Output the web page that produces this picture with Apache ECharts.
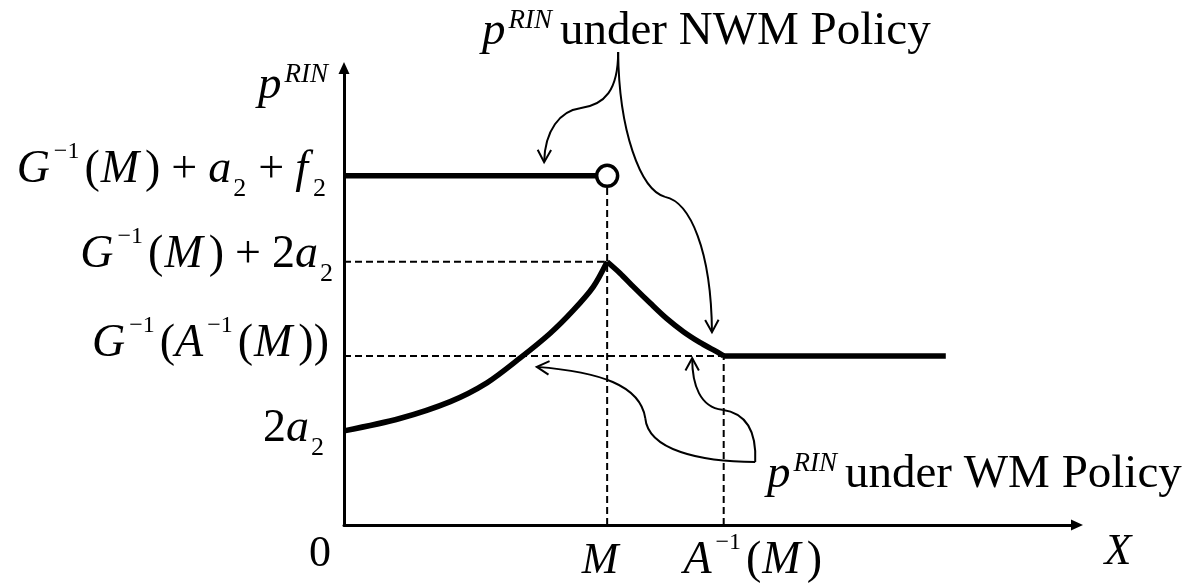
<!DOCTYPE html>
<html>
<head>
<meta charset="utf-8">
<script src="https://cdn.jsdelivr.net/npm/echarts@6/dist/echarts.min.js"></script>
<style>
  html, body { margin: 0; padding: 0; background: #fff; }
  #main { width: 1198px; height: 586px; }
</style>
</head>
<body>
<div id="main"></div>
<script>
// x and y both run 0..100 (schematic units)
const mX = 35.9;        // M
const aInvX = 51.8;     // A^-1(M)
const xEnd = 82.1;      // end of flat part
const nwmLevel = 76.4;  // G^-1(M)+a2+f2
const peakLevel = 57.6; // G^-1(M)+2a2
const flatLevel = 37.0; // G^-1(A^-1(M))
const startLevel = 20.6; // 2a2

// p^RIN under NWM policy
const nwmLine = [[0, nwmLevel], [mX, nwmLevel]];
// p^RIN under WM policy
const wmRise = [[0, 20.6], [7.6, 23.3], [14.5, 27.0], [19.5, 31.1], [24.0, 36.5], [28.1, 41.9], [31.3, 47.0], [34.0, 52.1], [35.9, 57.6]];
const wmFall = [[35.9, 57.6], [37.65, 55.1], [39.5, 52.1], [41.8, 48.5], [44.0, 45.2], [46.3, 42.3], [48.6, 39.9], [50.4, 38.3], [51.8, 37.0]];
const wmFlat = [[aInvX, flatLevel], [xEnd, flatLevel]];

// dashed guides
const guides = [
  [[0, peakLevel], [mX, peakLevel]],
  [[0, flatLevel], [aInvX, flatLevel]],
  [[mX, 0], [mX, nwmLevel]],
  [[aInvX, 0], [aInvX, flatLevel]]
];

// tick labels
const yTicks = [
  { v: nwmLevel, t: '{i|G}{sup|−1}{n|(}{im|M}{n|)}{op|+}{i|a}{sub|2}{op|+}{if|f}{sub|2}', d: 17, off: [0, -6] },
  { v: peakLevel, t: '{i|G}{sup|−1}{n|(}{im|M}{n|)}{op|+}{n|2}{i|a}{sub|2}', d: 10, off: [0, -7] },
  { v: flatLevel, t: '{i|G}{sup|−1}{n|(}{i|A}{sup|−1}{n|(}{im|M}{n|))}', d: 15, off: [0, -12] },
  { v: startLevel, t: '{n|2}{i|a}{sub|2}', d: 19, off: [0, -2] }
];
const xTicks = [
  { v: mX, t: '{x1|M}', off: [-7, 36] },
  { v: aInvX, t: '{i|A}{sup|−1}{n|(}{im|M}{n|)}', off: [29, 36] }
];

// curved pointers (bezier control points in data units)
const arrowNwmTop = [[37.4, 103.5], [37.4, 95.2], [35.6, 91.9], [32.2, 91.2], [29.5, 90.6], [27.4, 86.4], [27.3, 79.4]];
const arrowNwmCurve = [[37.4, 103.5], [37.5, 86.4], [40.4, 73.3], [43.8, 71.8], [47.2, 70.7], [50.1, 60.2], [50.2, 42.2]];
const arrowWmCurve = [[56.1, 13.8], [48.6, 13.8], [41.5, 16.4], [41.1, 23.4], [40.4, 30.6], [34.9, 33.5], [26.3, 34.6]];
const arrowWmFlat = [[56.1, 13.8], [56.3, 20.8], [54.7, 24.5], [51.6, 25.2], [48.6, 25.8], [47.5, 30.6], [47.5, 36.5]];

const serif = '"Liberation Serif", "DejaVu Serif", serif';
const LH = 64;
const FS = 46;
const rich = {
  i: { fontFamily: serif, fontStyle: 'italic', fontSize: FS, color: '#000', lineHeight: LH },
  im: { fontFamily: serif, fontStyle: 'italic', fontSize: FS, color: '#000', lineHeight: LH, padding: [0, 6, 0, 1] },
  if: { fontFamily: serif, fontStyle: 'italic', fontSize: FS, color: '#000', lineHeight: LH, padding: [0, 3, 0, 0] },
  n: { fontFamily: serif, fontSize: FS, color: '#000', lineHeight: LH },
  op: { fontFamily: serif, fontSize: FS, color: '#000', lineHeight: LH, padding: [0, 11, 0, 11] },
  sup: { fontFamily: serif, fontSize: 24, color: '#000', verticalAlign: 'top', padding: [2, 5, 0, 4] },
  sub: { fontFamily: serif, fontSize: 26, color: '#000', verticalAlign: 'bottom', padding: [0, 1, 0, 2] },
  x1: { fontFamily: serif, fontStyle: 'italic', fontSize: 44, color: '#000' },
  d1: { fontFamily: serif, fontSize: 44, color: '#000' }
};
const annRich = {
  p: { fontFamily: serif, fontStyle: 'italic', fontSize: 47, color: '#000', lineHeight: LH },
  s: { fontFamily: serif, fontStyle: 'italic', fontSize: 27, color: '#000', verticalAlign: 'top', padding: [7, 8, 0, 3] },
  t: { fontFamily: serif, fontSize: 47, color: '#000', lineHeight: LH }
};

const myChart = echarts.init(document.getElementById('main'), null, { renderer: 'canvas' });

function solid(name, data, smooth) {
  return {
    name: name, type: 'line', data: data, smooth: smooth || false,
    showSymbol: false, symbol: 'none', silent: true, z: 4,
    lineStyle: { color: '#000', width: 5.5, cap: 'butt' }
  };
}

const series = [
  solid('nwm', nwmLine),
  solid('wmRise', wmRise, 0.3),
  solid('wmFall', wmFall, 0.3),
  solid('wmFlat', wmFlat)
];
guides.forEach(function (g, k) {
  series.push({
    name: 'guide' + k, type: 'line', data: g, symbol: 'none', silent: true, z: 2,
    lineStyle: { color: '#000', width: 2, type: [7, 4] }
  });
});
series.push({
  name: 'hole', type: 'scatter', data: [[mX, nwmLevel]], symbol: 'circle', symbolSize: 21, z: 6,
  itemStyle: { color: '#fff', borderColor: '#000', borderWidth: 3.5, opacity: 1 }, silent: true
});
series.push({
  name: 'yTicks', type: 'scatter', symbolSize: 0, silent: true,
  itemStyle: { opacity: 1 },
  data: yTicks.map(function (d) {
    return { value: [0, d.v], label: { distance: d.d, offset: d.off } };
  }),
  label: {
    show: true, position: 'left', rich: rich, color: '#000',
    formatter: function (p) { return yTicks[p.dataIndex].t; }
  }
});
series.push({
  name: 'xTicks', type: 'scatter', symbolSize: 0, silent: true,
  itemStyle: { opacity: 1 },
  data: xTicks.map(function (d) {
    return { value: [d.v, 0], label: { offset: d.off } };
  }).concat([{ value: [0, 0], label: { offset: [-24, 29] } }]),
  label: {
    show: true, position: 'inside', rich: rich, color: '#000',
    formatter: function (p) { return p.dataIndex < xTicks.length ? xTicks[p.dataIndex].t : '{d1|0}'; }
  }
});

const option = {
  animation: false,
  backgroundColor: '#fff',
  grid: { left: 344, right: 121, top: 68, bottom: 61 },
  xAxis: {
    type: 'value', min: 0, max: 100,
    axisLine: { show: true, symbol: ['none', 'triangle'], symbolSize: [11, 12], lineStyle: { color: '#000', width: 3 } },
    axisTick: { show: false }, axisLabel: { show: false }, splitLine: { show: false },
    name: '{x1|X}', nameLocation: 'end', nameGap: 41,
    nameTextStyle: { rich: rich, color: '#000', align: 'center', verticalAlign: 'middle', padding: [54, 0, 0, 0] }
  },
  yAxis: {
    type: 'value', min: 0, max: 100,
    axisLine: { show: true, symbol: ['none', 'triangle'], symbolSize: [11, 12], lineStyle: { color: '#000', width: 3 } },
    axisTick: { show: false }, axisLabel: { show: false }, splitLine: { show: false },
    name: '{p|p}{s|RIN}', nameLocation: 'end', nameGap: 14,
    nameTextStyle: { rich: annRich, color: '#000', align: 'right', verticalAlign: 'top', padding: [0, 8, 0, 0] }
  },
  series: series
};
myChart.setOption(option);

// curved pointers with open heads, drawn after the grid exists
function toPx(p) { return myChart.convertToPixel({ gridIndex: 0 }, p); }
function pointer(ctrl) {
  const q = ctrl.map(toPx);
  const els = [];
  for (let k = 0; k + 3 < q.length; k += 3) {
    els.push({
      type: 'bezierCurve', silent: true, z: 10,
      shape: {
        x1: q[k][0], y1: q[k][1],
        cpx1: q[k + 1][0], cpy1: q[k + 1][1],
        cpx2: q[k + 2][0], cpy2: q[k + 2][1],
        x2: q[k + 3][0], y2: q[k + 3][1]
      },
      style: { fill: null, stroke: '#000', lineWidth: 2 }
    });
  }
  const tip = q[q.length - 1], prev = q[q.length - 2];
  const ang = Math.atan2(tip[1] - prev[1], tip[0] - prev[0]);
  const len = 14, spread = 0.5;
  els.push({
    type: 'polyline', silent: true, z: 10,
    shape: {
      points: [
        [tip[0] - len * Math.cos(ang - spread), tip[1] - len * Math.sin(ang - spread)],
        tip,
        [tip[0] - len * Math.cos(ang + spread), tip[1] - len * Math.sin(ang + spread)]
      ]
    },
    style: { fill: null, stroke: '#000', lineWidth: 2 }
  });
  return els;
}

myChart.setOption({
  graphic: [].concat(
    pointer(arrowNwmTop),
    pointer(arrowNwmCurve),
    pointer(arrowWmCurve),
    pointer(arrowWmFlat),
    [{
      type: 'text', x: 482, y: 0, silent: true, z: 10,
      style: { text: '{p|p}{s|RIN}{t|under NWM Policy}', rich: annRich, verticalAlign: 'top' }
    }, {
      type: 'text', x: 767, y: 443, silent: true, z: 10,
      style: { text: '{p|p}{s|RIN}{t|under WM Policy}', rich: annRich, verticalAlign: 'top' }
    }]
  )
});
</script>
</body>
</html>
